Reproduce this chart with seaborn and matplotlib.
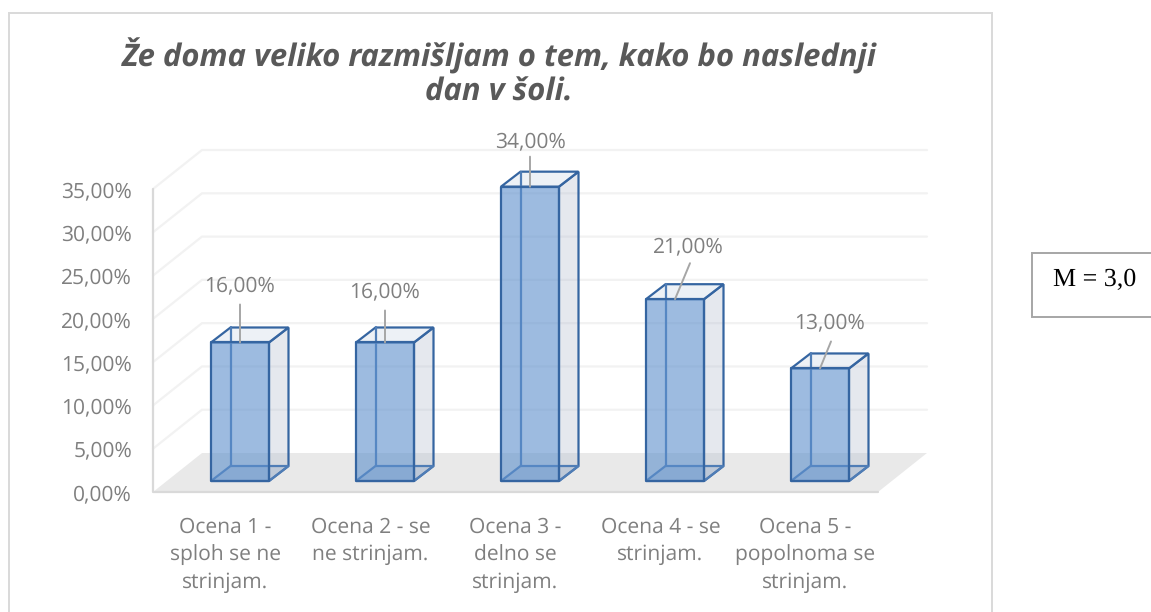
import numpy as np
import pandas as pd
import seaborn as sns
import matplotlib.pyplot as plt
from matplotlib.patches import Polygon, Rectangle

categories = ["Ocena 1 -\nsploh se ne\nstrinjam.", "Ocena 2 - se\nne strinjam.",
              "Ocena 3 -\ndelno se\nstrinjam.", "Ocena 4 - se\nstrinjam.",
              "Ocena 5 -\npopolnoma se\nstrinjam."]
values = [16, 16, 34, 21, 13]
value_labels = ["16,00%", "16,00%", "34,00%", "21,00%", "13,00%"]
y_ticks = [0, 5, 10, 15, 20, 25, 30, 35]
y_tick_labels = ["0,00%", "5,00%", "10,00%", "15,00%", "20,00%", "25,00%", "30,00%", "35,00%"]
title = "Že doma veliko razmišljam o tem, kako bo naslednji\ndan v šoli."
note = "M = 3,0"

# label layout, pixels from the middle of the bar top: text x, text y, line x, line y
label_layout = [(0, 57, 0, 38), (0, 51, 0, 32), (0, 45, 0, 30), (13, 52, 15, 36), (10, 46, 11, 27)]

W, H = 1151, 612
sns.set_theme(style="white")
plt.rcParams["font.family"] = ["Open Sans", "DejaVu Sans"]
plt.rcParams["text.hinting"] = "no_hinting"
plt.rcParams["text.hinting_factor"] = 1

GREY = "#7f7f7f"
EDGE = "#3565a1"
INNER = "#4f7db6"

fig = plt.figure(figsize=(W / 100, H / 100), dpi=100)
ax = fig.add_axes([153 / W, (H - 492) / H, 725 / W, 303 / H])

df = pd.DataFrame({"category": categories, "value": values})
sns.barplot(data=df, x="category", y="value", color="#5b8fd0", saturation=1, width=0.4, ax=ax, zorder=6)
ax.set_xlim(-0.5, 4.5)
ax.set_ylim(0, 35)
ax.set_xlabel("")
ax.set_ylabel("")
sns.despine(ax=ax, left=True, bottom=True)
ax.patch.set_alpha(0)

# depth of the chart box and of one bar, in data units
floor_dx, floor_dy = 49 / 145, 39 / 8.66
bar_dx, bar_dy = 19.5 / 145, 15 / 8.66
base_dx, base_dy = 14.5 / 145, 11 / 8.66

# floor and walls
x0, x1 = -0.5, 4.5
ax.add_patch(Polygon([(x0, 0), (x1, 0), (x1 + floor_dx, floor_dy), (x0 + floor_dx, floor_dy)],
                     fc="#e9e9e9", ec="none", clip_on=False, zorder=1))
for t in y_ticks[1:]:
    ax.plot([x0, x0 + floor_dx, x1 + floor_dx], [t, t + floor_dy, t + floor_dy],
            color="#f2f2f2", lw=1.6, clip_on=False, zorder=1, solid_joinstyle="miter")
ax.plot([x0, x0, x1], [35, 0, 0], color="#d9d9d9", lw=1.6, clip_on=False, zorder=2)

# bars with their see-through box faces
for i, (bar, v) in enumerate(zip(ax.patches, values)):
    bar.set_x(bar.get_x() + base_dx)
    bar.set_y(base_dy)
    bar.set_clip_on(False)
    bar.set_facecolor((0.36, 0.56, 0.80, 0.60))
    bar.set_edgecolor(EDGE)
    bar.set_linewidth(1.6)
    bar.set_joinstyle("round")
    l, r = bar.get_x(), bar.get_x() + bar.get_width()
    b, t = base_dy, base_dy + v
    side = [(r, b), (r + bar_dx, b + bar_dy), (r + bar_dx, t + bar_dy), (r, t)]
    top = [(l, t), (r, t), (r + bar_dx, t + bar_dy), (l + bar_dx, t + bar_dy)]
    bottom = [(l, b), (r, b), (r + bar_dx, b + bar_dy), (l + bar_dx, b + bar_dy)]
    ax.add_patch(Polygon(side, fc=(0.70, 0.74, 0.81, 0.34), ec=EDGE, lw=1.6, clip_on=False, zorder=4))
    ax.add_patch(Polygon(top, fc=(0.84, 0.87, 0.92, 0.42), ec=EDGE, lw=1.6, clip_on=False, zorder=4))
    ax.add_patch(Polygon(bottom, fc=(0.36, 0.50, 0.70, 0.20), ec=INNER, lw=1.6, clip_on=False, zorder=4))
    ax.plot([l + bar_dx, l + bar_dx], [b + bar_dy, t + bar_dy], color=INNER, lw=1.6, clip_on=False, zorder=5)

    tx, ty, lx, ly = label_layout[i]
    anchor = (i + base_dx, t)
    ax.annotate("", xy=anchor, xytext=(lx, ly), textcoords="offset pixels",
                arrowprops=dict(arrowstyle="-", color="#a6a6a6", lw=1.4, shrinkA=0, shrinkB=0),
                annotation_clip=False, zorder=7)
    ax.annotate(value_labels[i], xy=anchor, xytext=(tx, ty), textcoords="offset pixels",
                ha="center", va="center", fontsize=15, color=GREY, annotation_clip=False, zorder=8)

ax.set_yticks(y_ticks, y_tick_labels)
ax.tick_params(axis="y", length=0, pad=15, labelsize=15, labelcolor=GREY)
ax.tick_params(axis="x", length=0, pad=18, labelsize=15, labelcolor=GREY)
for lab in ax.get_xticklabels():
    lab.set_linespacing(1.4)

fig.text(499 / W, 1 - 73 / H, title, ha="center", va="center", fontsize=22, fontweight="bold",
         fontstyle="italic", color="#595959", linespacing=1.12)

# chart frame and the M box
fig.add_artist(Rectangle((9 / W, -0.02), 983 / W, 1 - 13 / H + 0.02, transform=fig.transFigure,
                         fc="none", ec="#d9d9d9", lw=1.4))
fig.add_artist(Rectangle((1032 / W, 1 - 317 / H), 130 / W, 64 / H, transform=fig.transFigure,
                         fc="white", ec="#a6a6a6", lw=1.4))
fig.text(1095 / W, 1 - 280 / H, note, ha="center", va="center", fontsize=19,
         family="Liberation Serif", color="black")

fig.savefig("out.png", dpi=100)
